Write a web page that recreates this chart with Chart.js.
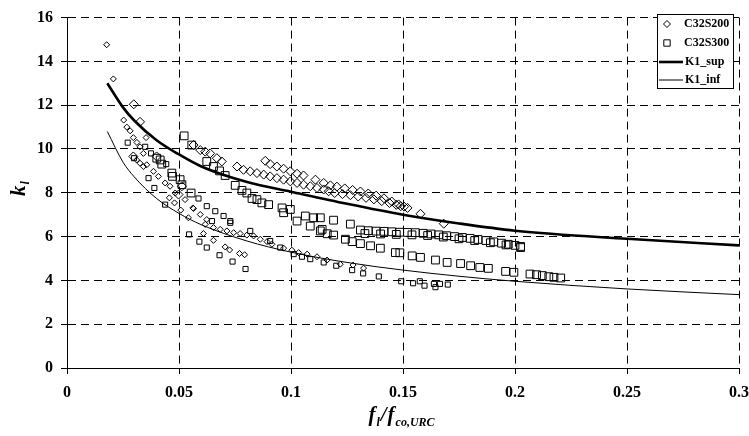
<!DOCTYPE html>
<html>
<head>
<meta charset="utf-8">
<script src="https://cdn.jsdelivr.net/npm/chart.js@4/dist/chart.umd.min.js"></script>
<style>
  html, body { margin: 0; padding: 0; background: #fff; }
</style>
</head>
<body>
<canvas id="chart" width="749" height="436"></canvas>
<script>
// values: [f_l/f_co,URC, k1]
const s200Large = [
  [0.0298,12.04],[0.0326,11.24],[0.0296,9.66],[0.0400,9.66],[0.0498,7.92],[0.0513,8.3],
  [0.0565,10.18],[0.0595,9.95],[0.0617,9.88],[0.0639,9.8],[0.0669,9.58],[0.0691,9.43],
  [0.0759,9.2],[0.0788,9.05],[0.0818,8.98],[0.0848,8.9],[0.0878,8.83],[0.0907,8.75],
  [0.0937,8.67],[0.0967,8.6],[0.0997,8.52],[0.1027,8.45],[0.1056,8.37],[0.1086,8.3],
  [0.1116,8.22],[0.1146,8.15],[0.1168,8.07],
  [0.0885,9.46],[0.0907,9.31],[0.0937,9.2],[0.0967,9.1],[0.0997,8.98],[0.1027,8.87],
  [0.1056,8.79],[0.1109,8.6],[0.1146,8.45],[0.1176,8.34],
  [0.1205,8.28],[0.124,8.2],[0.1275,8.13],[0.131,8.06],[0.1345,7.97],[0.138,7.87],
  [0.1415,7.75],[0.145,7.6],[0.148,7.47],[0.1505,7.37],[0.152,7.31],
  [0.1195,7.99],[0.123,7.94],[0.1265,7.89],[0.13,7.83],[0.1335,7.77],[0.137,7.7],
  [0.1405,7.62],[0.144,7.53],[0.147,7.45],[0.149,7.39],
  [0.1578,7.04],[0.1682,6.59]
];
const s200Small = [
  [0.0177,14.76],[0.0207,13.2],[0.0253,11.32],[0.0267,11.0],[0.0282,10.83],[0.0296,10.52],
  [0.0312,10.3],[0.0353,10.52],[0.0326,10.1],[0.0341,9.8],[0.0311,9.5],[0.0326,9.35],
  [0.0341,9.2],[0.0356,9.28],[0.0386,8.98],[0.0408,8.75],[0.0438,8.45],[0.046,8.3],
  [0.0483,7.99],[0.0527,7.69],[0.0562,7.31],[0.0457,7.77],[0.048,7.54],[0.0508,7.21],
  [0.0542,6.86],[0.0565,7.28],[0.0595,7.01],[0.0624,6.78],
  [0.0617,6.56],[0.0654,6.41],[0.0684,6.33],[0.0714,6.26],[0.0744,6.18],[0.0773,6.14],
  [0.0803,6.07],[0.0833,6.03],[0.0863,5.88],[0.0893,5.77],[0.0915,5.65],[0.0967,5.47],
  [0.1004,5.38],[0.1034,5.27],[0.1072,5.2],[0.1116,5.08],[0.1161,4.93],[0.122,4.74],
  [0.1277,4.7],[0.1324,4.56],
  [0.0609,6.14],[0.0654,5.83],[0.0706,5.53],[0.0726,5.39],[0.077,5.23],[0.0793,5.17]
];
const s300Large = [
  [0.0523,10.6],[0.0557,10.18],[0.0401,9.58],[0.0423,9.31],[0.0416,9.5],[0.0468,8.9],
  [0.0471,8.75],[0.0505,8.6],[0.0513,8.37],[0.0554,7.99],[0.0624,9.43],[0.0654,9.2],
  [0.0681,9.0],[0.0706,8.79],[0.0751,8.34],[0.0781,8.11],[0.0803,7.99],[0.0826,7.74],
  [0.0848,7.69],[0.087,7.54],[0.09,7.46],[0.096,7.31],[0.0967,7.09],[0.0997,7.24],
  [0.1027,6.71],[0.1064,6.94],[0.1101,6.86],[0.1131,6.86],[0.1086,6.48],[0.1139,6.33],
  [0.119,6.75],[0.1265,6.57],
  [0.131,6.3],[0.1345,6.27],[0.138,6.25],[0.1415,6.24],[0.145,6.22],[0.1485,6.2],
  [0.152,6.19],[0.1555,6.18],[0.159,6.15],[0.1625,6.12],[0.166,6.08],[0.1695,6.04],
  [0.173,6.0],[0.1765,5.96],[0.18,5.92],[0.1835,5.87],[0.187,5.82],[0.1905,5.76],
  [0.194,5.7],[0.197,5.65],[0.2,5.6],[0.2025,5.55],
  [0.133,6.14],[0.14,6.12],[0.147,6.1],[0.154,6.08],[0.161,6.05],[0.168,5.98],
  [0.175,5.9],[0.182,5.82],[0.189,5.72],[0.196,5.62],[0.2025,5.5],
  [0.1131,6.26],[0.1162,6.13],[0.119,6.07],[0.1243,5.88],[0.1273,5.77],[0.131,5.68],
  [0.1355,5.58],[0.1399,5.47],[0.1466,5.27],[0.1486,5.26],[0.1541,5.12],[0.1578,5.05],
  [0.1645,4.93],[0.1697,4.82],[0.1757,4.77],[0.1802,4.67],[0.1843,4.59],[0.1881,4.55],
  [0.1958,4.41],[0.1995,4.37],[0.2067,4.29],[0.2096,4.26],[0.2122,4.22],[0.2151,4.17],
  [0.2174,4.14],[0.2204,4.11]
];
const s300Small = [
  [0.0271,10.29],[0.0349,10.1],[0.0375,9.8],[0.0299,9.58],[0.0364,8.67],[0.039,8.22],
  [0.0438,7.46],[0.0443,9.31],[0.0545,6.1],[0.0587,7.74],[0.0624,7.39],[0.0662,7.16],
  [0.0699,6.94],[0.0729,6.71],[0.0647,6.71],[0.0729,6.63],[0.0818,6.26],[0.0907,5.8],
  [0.0952,5.5],[0.1012,5.2],[0.1049,5.08],[0.1086,4.97],[0.1146,4.82],
  [0.0591,5.77],[0.0624,5.5],[0.0681,5.15],[0.0739,4.86],[0.0797,4.52],[0.1202,4.67],
  [0.1273,4.47],[0.1322,4.32],[0.1392,4.18],[0.1492,3.96],[0.1545,3.87],[0.1575,3.96],
  [0.1596,3.76],[0.1645,3.69],[0.1638,3.84],[0.1665,3.84],[0.17,3.81]
];
const curveX = [0.018,0.025,0.03,0.04,0.05,0.06,0.08,0.1,0.125,0.15,0.175,0.2,0.25,0.3];
const supY   = [13.0,11.9,11.3,10.4,9.75,9.2,8.5,8.05,7.5,7.0,6.6,6.27,5.9,5.6];
const infY   = [10.8,9.4,8.73,7.74,7.06,6.54,5.81,5.29,4.82,4.47,4.19,3.96,3.61,3.35];

const xTicks = [0,0.05,0.1,0.15,0.2,0.25,0.3];
const yTicks = [0,2,4,6,8,10,12,14,16];

const font = '"Liberation Serif", "Times New Roman", serif';
const toPts = arr => arr.map(p => ({x: p[0], y: p[1]}));
const curve = ys => curveX.map((x, i) => ({x: x, y: ys[i]}));

function scatterSet(label, pts, style, r) {
  return {
    type: "scatter", label: label, data: toPts(pts),
    pointStyle: style, pointRadius: r, pointHoverRadius: r,
    borderColor: "#000", backgroundColor: "rgba(0,0,0,0)", pointBorderWidth: 1
  };
}
function lineSet(label, ys, w) {
  return {
    type: "line", label: label, data: curve(ys),
    borderColor: "#000", borderWidth: w, pointRadius: 0,
    cubicInterpolationMode: "monotone", fill: false
  };
}

const datasets = [
  scatterSet("C32S200", s200Large, "rectRot", 4.5),
  scatterSet("", s200Small, "rectRot", 3),
  scatterSet("C32S300", s300Large, "rect", 5.5),
  scatterSet("", s300Small, "rect", 3.6),
  lineSet("K1_sup", supY, 2.6),
  lineSet("K1_inf", infY, 1)
];

const titles = {
  id: "titles",
  afterDraw(chart) {
    const ctx = chart.ctx;
    const big = 'italic bold 21px ' + font, small = 'italic bold 12px ' + font;
    // x title f_l / f_co,URC
    const parts = [["f", big, 0], ["l", small, 5], ["/", big, 0], ["f", big, 0], ["co,URC", small, 5]];
    ctx.save();
    ctx.fillStyle = "#000";
    ctx.textBaseline = "alphabetic";
    let total = 0;
    parts.forEach(p => { ctx.font = p[1]; total += ctx.measureText(p[0]).width + 1; });
    let x = 402 - total / 2;
    parts.forEach(p => { ctx.font = p[1]; ctx.fillText(p[0], x, 421 + p[2]); x += ctx.measureText(p[0]).width + 1; });
    // y title k_l
    ctx.translate(25, 189);
    ctx.rotate(-Math.PI / 2);
    ctx.font = big;
    const kw = ctx.measureText("k").width;
    ctx.font = small;
    const lw = ctx.measureText("l").width;
    ctx.font = big;
    ctx.fillText("k", -(kw + lw) / 2, 0);
    ctx.font = small;
    ctx.fillText("l", -(kw + lw) / 2 + kw + 1, 4);
    ctx.restore();
  }
};

const legendBox = {
  id: "legendBox",
  afterDraw(chart) {
    const ctx = chart.ctx;
    const x0 = 657, y0 = 14, w = 76, h = 74;
    ctx.save();
    ctx.fillStyle = "#fff";
    ctx.fillRect(x0, y0, w, h);
    ctx.strokeStyle = "#000";
    ctx.lineWidth = 1;
    ctx.strokeRect(x0 + 0.5, y0 + 0.5, w, h);
    ctx.font = 'bold 12px ' + font;
    ctx.textBaseline = "middle";
    const rows = [0, 2, 4, 5];
    const ys = [24, 43, 62, 80];
    rows.forEach((di, i) => {
      const ds = chart.data.datasets[di];
      const y = ys[i];
      ctx.strokeStyle = "#000";
      if (ds.type === "scatter") {
        ctx.fillStyle = "rgba(0,0,0,0)";
        ctx.lineWidth = 1;
        Chart.helpers.drawPoint(ctx, {pointStyle: ds.pointStyle, radius: di === 0 ? 3.5 : 4.5, borderWidth: 1}, 667, y);
        ctx.fillStyle = "#000";
        ctx.fillText(ds.label, 684, y);
      } else {
        ctx.beginPath();
        ctx.lineWidth = ds.borderWidth;
        ctx.moveTo(659, y); ctx.lineTo(683, y);
        ctx.stroke();
        ctx.fillStyle = "#000";
        ctx.fillText(ds.label, 685, y);
      }
    });
    ctx.restore();
  }
};

const axisCommon = {
  grid: { color: "#000", lineWidth: 1, drawTicks: true, tickLength: 6, tickColor: "#000", tickBorderDash: [] },
  border: { display: true, color: "#000", width: 1, dash: [8, 5] },
  ticks: { color: "#000", font: { family: font, size: 16, weight: "bold" } }
};

new Chart(document.getElementById("chart"), {
  data: { datasets: datasets },
  options: {
    responsive: false,
    animation: false,
    layout: { padding: { left: 0, right: 0, top: 15, bottom: 0 } },
    plugins: { legend: { display: false }, tooltip: { enabled: false } },
    scales: {
      x: {
        type: "linear", min: 0, max: 0.3,
        grid: axisCommon.grid, border: axisCommon.border,
        afterBuildTicks: s => { s.ticks = xTicks.map(v => ({value: v})); },
        afterFit: s => { s.height = 68; s.paddingRight = 10; },
        ticks: Object.assign({}, axisCommon.ticks, { padding: 9, callback: v => String(+v.toFixed(2)) })
      },
      y: {
        type: "linear", min: 0, max: 16,
        grid: axisCommon.grid, border: axisCommon.border,
        afterBuildTicks: s => { s.ticks = yTicks.map(v => ({value: v})); },
        afterFit: s => { s.width = 67; },
        ticks: Object.assign({}, axisCommon.ticks, { padding: 8 })
      }
    }
  },
  plugins: [titles, legendBox]
});
</script>
</body>
</html>
